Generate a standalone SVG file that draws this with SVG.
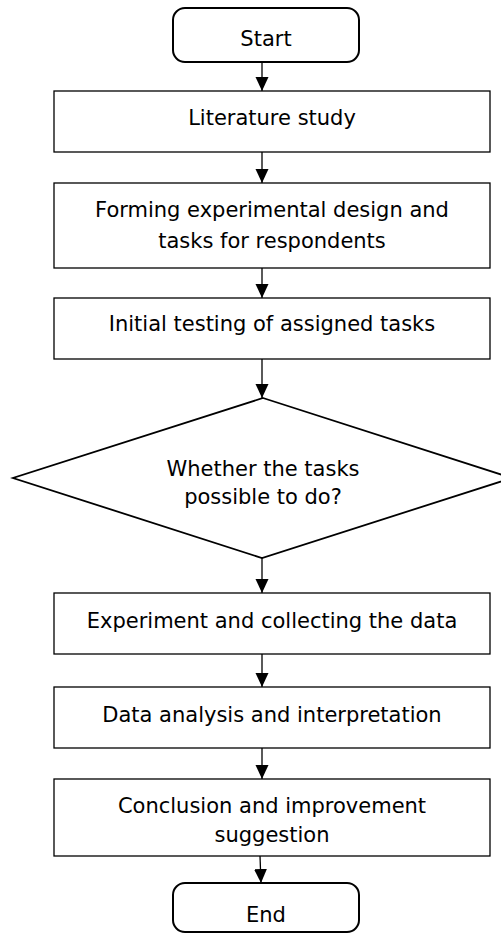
<svg xmlns="http://www.w3.org/2000/svg" width="501" height="934" viewBox="0 0 501 934">
<style>
.box{fill:#fff;stroke:#000;stroke-width:1.3}
.term{fill:#fff;stroke:#000;stroke-width:2}
.dia{fill:#fff;stroke:#000;stroke-width:1.8}
.t{font-family:"DejaVu Sans",Verdana,sans-serif;font-size:21px;fill:#000;text-anchor:middle}
.c{stroke:#000;stroke-width:1.3;fill:none}
</style>
<defs>
<marker id="ah" markerUnits="userSpaceOnUse" markerWidth="14" markerHeight="14" viewBox="0 0 14 14" refX="14" refY="7" orient="auto">
<path d="M0,0.5 L14,7 L0,13.5 Z" fill="#000"/>
</marker>
</defs>
<rect width="501" height="934" fill="#fff"/>
<g id="connectors">
<line class="c" x1="262" y1="62" x2="262" y2="91" marker-end="url(#ah)"/>
<line class="c" x1="262" y1="152" x2="262" y2="183" marker-end="url(#ah)"/>
<line class="c" x1="262" y1="268" x2="262" y2="298" marker-end="url(#ah)"/>
<line class="c" x1="262" y1="359" x2="262" y2="398" marker-end="url(#ah)"/>
<line class="c" x1="262" y1="558" x2="262" y2="593" marker-end="url(#ah)"/>
<line class="c" x1="262" y1="654" x2="262" y2="687" marker-end="url(#ah)"/>
<line class="c" x1="262" y1="748" x2="262" y2="779" marker-end="url(#ah)"/>
<line class="c" x1="260" y1="856" x2="261" y2="883" marker-end="url(#ah)"/>
</g>
<g id="start">
<rect class="term" x="173" y="8" width="186" height="54" rx="12"/>
<text class="t" x="266" y="46">Start</text>
</g>
<g id="literature">
<rect class="box" x="54" y="91" width="436" height="61"/>
<text class="t" x="272" y="125">Literature study</text>
</g>
<g id="forming">
<rect class="box" x="54" y="183" width="436" height="85"/>
<text class="t" x="272" y="217">Forming experimental design and</text>
<text class="t" x="272" y="248">tasks for respondents</text>
</g>
<g id="initial">
<rect class="box" x="54" y="298" width="436" height="61"/>
<text class="t" x="272" y="331">Initial testing of assigned tasks</text>
</g>
<g id="decision">
<polygon class="dia" points="263,398 512,478 262,558 13,478"/>
<text class="t" x="263" y="476">Whether the tasks</text>
<text class="t" x="263" y="504">possible to do?</text>
</g>
<g id="experiment">
<rect class="box" x="54" y="593" width="436" height="61"/>
<text class="t" x="272" y="628">Experiment and collecting the data</text>
</g>
<g id="analysis">
<rect class="box" x="54" y="687" width="436" height="61"/>
<text class="t" x="272" y="722">Data analysis and interpretation</text>
</g>
<g id="conclusion">
<rect class="box" x="54" y="779" width="436" height="77"/>
<text class="t" x="272" y="813">Conclusion and improvement</text>
<text class="t" x="272" y="842">suggestion</text>
</g>
<g id="end">
<rect class="term" x="173" y="883" width="186" height="49" rx="12"/>
<text class="t" x="266" y="922">End</text>
</g>
</svg>
